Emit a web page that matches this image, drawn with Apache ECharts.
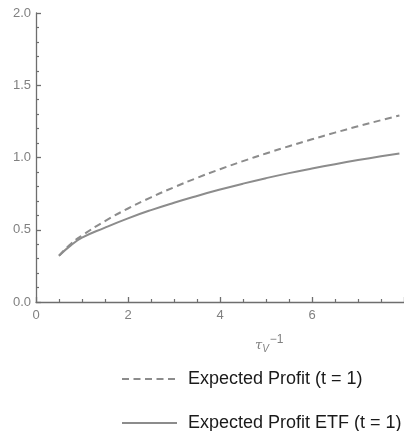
<!DOCTYPE html>
<html><head><meta charset="utf-8">
<script src="https://cdn.jsdelivr.net/npm/echarts@6/dist/echarts.min.js"></script>
<style>html,body{margin:0;padding:0;background:#fff}#c{width:404px;height:431px}</style>
</head><body><div id="c"></div>
<script>
var xValues = [0.5, 0.75, 1, 1.5, 2, 2.5, 3, 3.5, 4, 4.5, 5, 5.5, 6, 6.5, 7, 7.5, 7.9];
var profit = [0.32, 0.40, 0.46, 0.56, 0.647, 0.724, 0.794, 0.859, 0.919, 0.975, 1.028, 1.078, 1.126, 1.172, 1.216, 1.258, 1.291];
var profitETF = [0.32, 0.39, 0.445, 0.515, 0.579, 0.636, 0.687, 0.734, 0.778, 0.819, 0.857, 0.892, 0.924, 0.954, 0.982, 1.008, 1.028];
var seriesNames = ['Expected Profit (t = 1)', 'Expected Profit ETF (t = 1)'];

function pairs(xs, ys){ return xs.map(function(x,i){ return [x, ys[i]]; }); }

var chart = echarts.init(document.getElementById('c'));
var axisCol = '#6e6e6e', labCol = '#808080', lineCol = '#8c8c8c';
var legendBase = {
  orient: 'horizontal', left: 121, itemWidth: 55, itemHeight: 18, padding: 0,
  itemStyle: { opacity: 0 },
  textStyle: { color: '#1a1a1a', fontSize: 18, fontFamily: 'Liberation Sans', padding: [0,0,0,6] }
};
chart.setOption({
  animation: false,
  grid: { left: 36, right: -5, top: 13, bottom: 129, containLabel: false },
  xAxis: {
    type: 'value', min: 0, max: 8, interval: 2,
    axisLine: { lineStyle: { color: axisCol, width: 1.3 } },
    axisTick: { inside: true, length: 5, lineStyle: { color: axisCol, width: 1.3 } },
    minorTick: { show: true, splitNumber: 4, length: 3, lineStyle: { color: axisCol, width: 1.2 } },
    splitLine: { show: false },
    axisLabel: { color: labCol, fontSize: 13, fontFamily: 'Liberation Sans', margin: 7, showMaxLabel: false }
  },
  yAxis: {
    type: 'value', min: 0, max: 2, interval: 0.5,
    axisLine: { show: true, lineStyle: { color: axisCol, width: 1.3 } },
    axisTick: { show: true, inside: true, length: 5, lineStyle: { color: axisCol, width: 1.3 } },
    minorTick: { show: true, splitNumber: 5, length: 3, lineStyle: { color: axisCol, width: 1.2 } },
    splitLine: { show: false },
    axisLabel: { color: labCol, fontSize: 13, fontFamily: 'Liberation Sans', margin: 5,
      formatter: function(v){ return v.toFixed(1); } }
  },
  legend: [
    Object.assign({}, legendBase, { top: 370, data: [seriesNames[0]] }),
    Object.assign({}, legendBase, { top: 414, data: [seriesNames[1]] })
  ],
  graphic: [{
    type: 'text', left: 255, top: 334,
    style: {
      text: '{t|τ}{s|V}{p|−1}',
      rich: {
        t: { fontSize: 13, fontStyle: 'italic', fill: '#808080', fontFamily: 'DejaVu Serif', padding: [6,0,0,0] },
        s: { fontSize: 10, fontStyle: 'italic', fill: '#808080', fontFamily: 'Liberation Sans', padding: [12,0,0,0] },
        p: { fontSize: 12, fill: '#808080', fontFamily: 'Liberation Sans', padding: [0,0,6,1] }
      }
    }
  }],
  series: [
    { name: seriesNames[0], type: 'line', smooth: true, showSymbol: false, symbol: 'none',
      data: pairs(xValues, profit),
      lineStyle: { color: lineCol, width: 2, type: [7, 4.5] }, itemStyle: { color: lineCol } },
    { name: seriesNames[1], type: 'line', smooth: true, showSymbol: false, symbol: 'none',
      data: pairs(xValues, profitETF),
      lineStyle: { color: lineCol, width: 2 }, itemStyle: { color: lineCol } }
  ]
});
</script></body></html>
